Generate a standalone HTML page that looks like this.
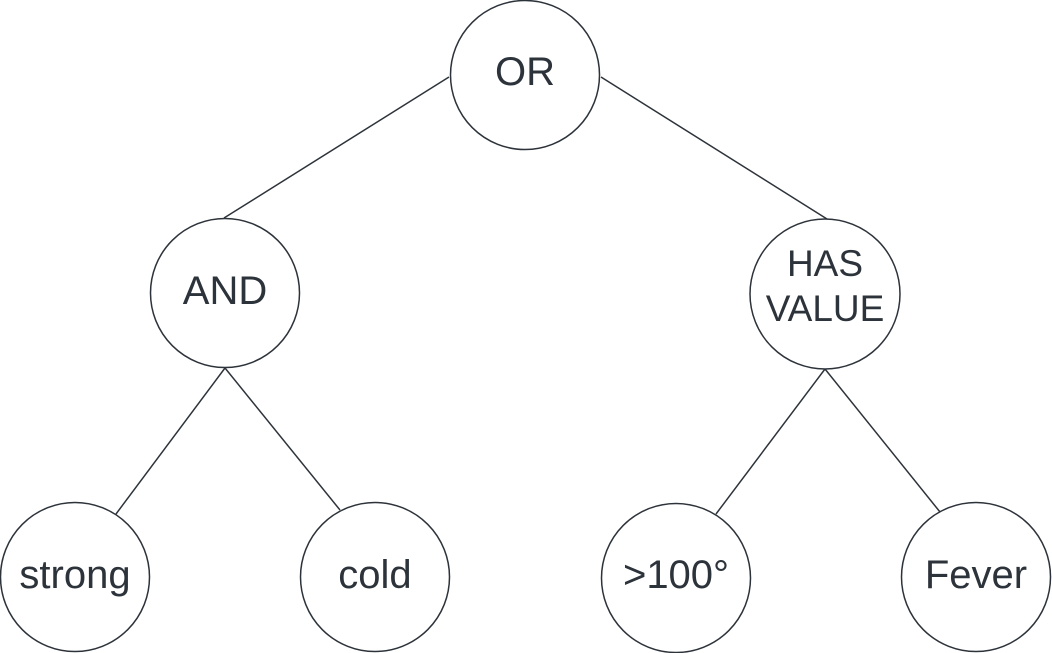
<!DOCTYPE html>
<html><head><style>body{margin:0;background:#fff}svg{display:block}</style></head><body>
<svg width="1052" height="653" viewBox="0 0 1052 653" xmlns="http://www.w3.org/2000/svg">
<g stroke="#2d333a" stroke-width="1.5" fill="none">
<line x1="449" y1="77" x2="224" y2="218"/>
<line x1="601" y1="77" x2="827" y2="219"/>
<line x1="225" y1="368" x2="116" y2="514"/>
<line x1="225" y1="368" x2="340" y2="510"/>
<line x1="825" y1="369" x2="716" y2="514"/>
<line x1="825" y1="369" x2="940" y2="512"/>
<circle cx="525" cy="75" r="74.5" fill="#fff"/>
<circle cx="225" cy="293" r="74.5" fill="#fff"/>
<circle cx="825" cy="294" r="75" fill="#fff"/>
<circle cx="75" cy="577" r="74.5" fill="#fff"/>
<circle cx="375" cy="577" r="74.5" fill="#fff"/>
<circle cx="676" cy="578" r="74.5" fill="#fff"/>
<circle cx="976" cy="577" r="74.5" fill="#fff"/>
</g>
<g fill="#2d333a" font-family="Liberation Sans, sans-serif" font-size="40" text-anchor="middle">
<text x="525" y="85">OR</text>
<text x="225" y="304">AND</text>
<text x="825" y="276" font-size="37">HAS</text>
<text x="825" y="321" font-size="37">VALUE</text>
<text x="75" y="588">strong</text>
<text x="375" y="588">cold</text>
<text x="676" y="588">&gt;100°</text>
<text x="976" y="588">Fever</text>
</g>
</svg>
</body></html>
